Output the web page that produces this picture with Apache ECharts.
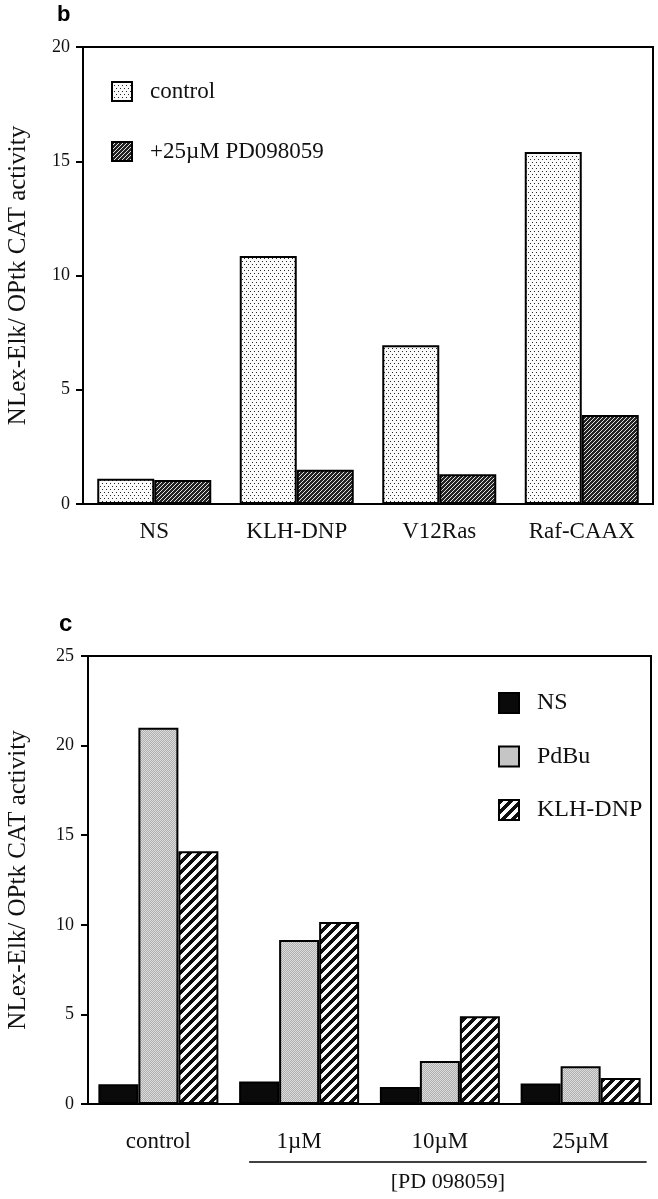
<!DOCTYPE html>
<html><head><meta charset="utf-8">
<script src="https://cdn.jsdelivr.net/npm/echarts@6/dist/echarts.min.js"></script>
<style>html,body{margin:0;padding:0;background:#fff}#c{width:658px;height:1199px}</style>
</head><body><div id="c"></div>
<script>
// ---- Data ----
const categoriesB = ['NS', 'KLH-DNP', 'V12Ras', 'Raf-CAAX'];
const controlB = [1.1, 10.85, 6.95, 15.4];
const pdB = [1.05, 1.5, 1.3, 3.9];
const seriesNamesB = ['control', '+25µM PD098059'];
const categoriesC = ['control', '1µM', '10µM', '25µM'];
const nsC = [1.1, 1.25, 0.95, 1.15];
const pdbuC = [21.0, 9.15, 2.4, 2.1];
const klhC = [14.1, 10.15, 4.9, 1.45];
const seriesNamesC = ['NS', 'PdBu', 'KLH-DNP'];
const yTicksB = {min: 0, max: 20, interval: 5};
const yTicksC = {min: 0, max: 25, interval: 5};
const yLabel = 'NLex-Elk/ OPtk CAT activity';
const groupLabel = '[PD 098059]';

// ---- Patterns ----
function tile(w, h, fn) {
  const cv = document.createElement('canvas'); cv.width = w; cv.height = h;
  const ctx = cv.getContext('2d'); const img = ctx.createImageData(w, h);
  for (let y = 0; y < h; y++) for (let x = 0; x < w; x++) {
    const v = fn(x, y); const i = (y * w + x) * 4;
    img.data[i] = v; img.data[i+1] = v; img.data[i+2] = v; img.data[i+3] = 255;
  }
  ctx.putImageData(img, 0, 0); return {image: cv, repeat: 'repeat'};
}
const stipple = tile(4, 6, (x, y) => ((x === 0 && y === 0) || (x === 2 && y === 3)) ? 40 : 250);
const darkHatch = tile(4, 4, (x, y) => ((x + y) % 4 === 3) ? 225 : 35);
const grayFine = tile(2, 2, (x, y) => ((x + y) % 2) ? 175 : 220);
const boldStripe = tile(10, 10, (x, y) => ((x + y) % 10 < 5) ? 15 : 252);

const font = 'Liberation Serif';
const axisLine = {lineStyle: {color: '#000', width: 2}};

function panelLetters() {
  return [
    {type: 'text', left: 57, top: 4, style: {text: 'b', fontFamily: 'Liberation Sans', fontWeight: 'bold', fontSize: 22, fill: '#000'}},
    {type: 'text', left: 59, top: 612, style: {text: 'c', fontFamily: 'Liberation Sans', fontWeight: 'bold', fontSize: 24, fill: '#000'}}
  ];
}

const option = {
  animation: false,
  backgroundColor: '#fff',
  grid: [
    {left: 83, top: 47, width: 570, height: 457, outerBoundsMode: 'none', containLabel: false, show: true, borderColor: '#000', borderWidth: 2, backgroundColor: 'transparent'},
    {left: 88, top: 656, width: 563, height: 448, outerBoundsMode: 'none', containLabel: false, show: true, borderColor: '#000', borderWidth: 2, backgroundColor: 'transparent'}
  ],
  legend: [
    {data: seriesNamesB, orient: 'vertical', left: 106, top: 75, icon: 'rect', itemWidth: 20, itemHeight: 19, itemGap: 37,
     textStyle: {fontFamily: font, fontSize: 23, lineHeight: 20, color: '#111', padding: [0, 0, 0, 13]}, selectedMode: false},
    {data: seriesNamesC, orient: 'vertical', left: 493, top: 686, icon: 'rect', itemWidth: 20, itemHeight: 20, itemGap: 29.5,
     textStyle: {fontFamily: font, fontSize: 24, lineHeight: 20, color: '#111', padding: [0, 0, 0, 13]}, selectedMode: false}
  ],
  xAxis: [
    {type: 'category', gridIndex: 0, data: categoriesB, axisLine: axisLine,
     axisTick: {alignWithLabel: true, length: 9, lineStyle: {color: '#000', width: 2}},
     axisLabel: {fontFamily: font, fontSize: 23, color: '#111', margin: 16}},
    {type: 'category', gridIndex: 1, data: categoriesC, axisLine: axisLine,
     axisTick: {alignWithLabel: true, length: 9, lineStyle: {color: '#000', width: 2}},
     axisLabel: {fontFamily: font, fontSize: 23, color: '#111', margin: 26}}
  ],
  yAxis: [
    Object.assign({type: 'value', gridIndex: 0, splitLine: {show: false}, axisLine: Object.assign({show: true}, axisLine),
     axisTick: {show: true, length: 7, lineStyle: {color: '#000', width: 2}},
     axisLabel: {fontFamily: font, fontSize: 18, color: '#111', margin: 13},
     name: yLabel, nameLocation: 'middle', nameGap: 52, nameRotate: 90,
     nameTextStyle: {fontFamily: font, fontSize: 25, color: '#111'}}, yTicksB),
    Object.assign({type: 'value', gridIndex: 1, splitLine: {show: false}, axisLine: Object.assign({show: true}, axisLine),
     axisTick: {show: true, length: 7, lineStyle: {color: '#000', width: 2}},
     axisLabel: {fontFamily: font, fontSize: 18, color: '#111', margin: 14},
     name: yLabel, nameLocation: 'middle', nameGap: 57, nameRotate: 90,
     nameTextStyle: {fontFamily: font, fontSize: 25, color: '#111'}}, yTicksC)
  ],
  series: [
    {name: seriesNamesB[0], type: 'bar', xAxisIndex: 0, yAxisIndex: 0, data: controlB, barWidth: 57, barGap: '0%',
     itemStyle: {color: stipple, borderColor: '#000', borderWidth: 2}},
    {name: seriesNamesB[1], type: 'bar', xAxisIndex: 0, yAxisIndex: 0, data: pdB, barWidth: 57, barGap: '0%',
     itemStyle: {color: darkHatch, borderColor: '#000', borderWidth: 2}},
    {name: seriesNamesC[0], type: 'bar', xAxisIndex: 1, yAxisIndex: 1, data: nsC, barWidth: 40, barGap: '0%',
     itemStyle: {color: '#0a0a0a', borderColor: '#000', borderWidth: 2}},
    {name: seriesNamesC[1], type: 'bar', xAxisIndex: 1, yAxisIndex: 1, data: pdbuC, barWidth: 40, barGap: '0%',
     itemStyle: {color: grayFine, borderColor: '#000', borderWidth: 2}},
    {name: seriesNamesC[2], type: 'bar', xAxisIndex: 1, yAxisIndex: 1, data: klhC, barWidth: 40, barGap: '0%',
     itemStyle: {color: boldStripe, borderColor: '#000', borderWidth: 2}}
  ],
  graphic: panelLetters()
};

const chart = echarts.init(document.getElementById('c'), null, {renderer: 'canvas'});
chart.setOption(option);

// group annotation under the PD 098059 doses
const p1 = chart.convertToPixel({xAxisIndex: 1, yAxisIndex: 1}, [1, 0]);
const p3 = chart.convertToPixel({xAxisIndex: 1, yAxisIndex: 1}, [3, 0]);
const x0 = p1[0] - 50, x1 = p3[0] + 66, ly = p1[1] + 58;
chart.setOption({graphic: panelLetters().concat([
  {type: 'line', shape: {x1: x0, y1: ly, x2: x1, y2: ly}, style: {stroke: '#000', lineWidth: 1.5}},
  {type: 'text', x: (x0 + x1) / 2, y: ly + 20, style: {text: groupLabel, fontFamily: font, fontSize: 22, fill: '#111', textAlign: 'center', textVerticalAlign: 'middle'}}
])});
</script></body></html>
